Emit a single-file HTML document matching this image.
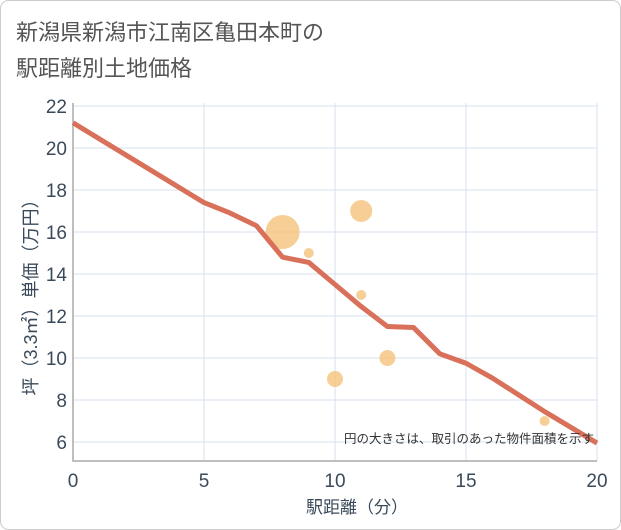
<!DOCTYPE html>
<html><head><meta charset="utf-8"><style>
body{margin:0;background:#fff;}
svg{display:block;font-family:"Liberation Sans","Noto Sans CJK JP",sans-serif;}
</style></head><body>
<svg width="621" height="530">
<rect x="0.5" y="0.5" width="620" height="529" rx="8" fill="#fff" stroke="#ccc"/>
<text x="16" y="40" font-size="22" fill="#555">新潟県新潟市江南区亀田本町の</text>
<text x="16" y="76" font-size="22" fill="#555">駅距離別土地価格</text>
<g id="grid"></g>
<g id="marks"></g>
<text x="357" y="513" font-size="17" fill="#3a4a5a" text-anchor="middle">駅距離（分）</text>
<text transform="translate(37,293) rotate(-90)" font-size="18" fill="#3a4a5a" text-anchor="middle">坪（3.3㎡）単価（万円）</text>
<text x="594" y="443" font-size="12.5" fill="#333" text-anchor="end">円の大きさは、取引のあった物件面積を示す</text>
</svg>
<script>
const xTicks=[0,5,10,15,20];
const yTicks=[6,8,10,12,14,16,18,20,22];
const lineX=[0,5,6,7,8,9,10,11,12,13,14,15,16,17,18,19,20];
const lineY=[21.2,17.4,16.9,16.3,14.8,14.55,13.5,12.45,11.5,11.45,10.2,9.75,9.05,8.25,7.45,6.7,5.95];
const bubX=[8,11,9,11,12,10,18];
const bubY=[16,17,15,13,10,9,7];
const bubR=[17,11,5,5,8,8,5];
const L=73,R=597,T=103,B=461;
const sx=v=>L+(v/20)*(R-L);
const sy=v=>442-(v-6)*21;
const NS="http://www.w3.org/2000/svg";
const g=document.getElementById('grid'),m=document.getElementById('marks');
function mk(tag,attrs,parent){const e=document.createElementNS(NS,tag);for(const k in attrs)e.setAttribute(k,attrs[k]);parent.appendChild(e);return e;}
yTicks.forEach(v=>{
 const l=mk('line',{x1:L,x2:R,y1:sy(v),y2:sy(v),stroke:'#d5e1ec'},g);
 
 
 const t=mk('text',{x:L-6,y:sy(v)+7,'font-size':19,fill:'#3a4a5a','text-anchor':'end'},g);t.textContent=v;
 
 
});
xTicks.forEach(v=>{
 const l=mk('line',{x1:sx(v),x2:sx(v),y1:T,y2:B,stroke:'#d5e1ec'},g);
 
 
 const t=mk('text',{x:sx(v),y:B+26,'font-size':19,fill:'#3a4a5a','text-anchor':'middle'},g);t.textContent=v;
 
 
});
const ax=mk('path',{d:`M${L},${T}V${B}H${R}`,stroke:'#aaa',fill:'none','stroke-width':1.5},g);


bubX.forEach((x,i)=>{
 const c=mk('circle',{cx:sx(x),cy:sy(bubY[i]),r:bubR[i],fill:'#f5c27a','fill-opacity':0.8},m);
 
 
});
const p=mk('polyline',{points:lineX.map((x,i)=>sx(x)+','+sy(lineY[i])).join(' '),fill:'none',stroke:'#d9705a','stroke-width':5,'stroke-linejoin':'round'},m);


</script>
</body></html>
